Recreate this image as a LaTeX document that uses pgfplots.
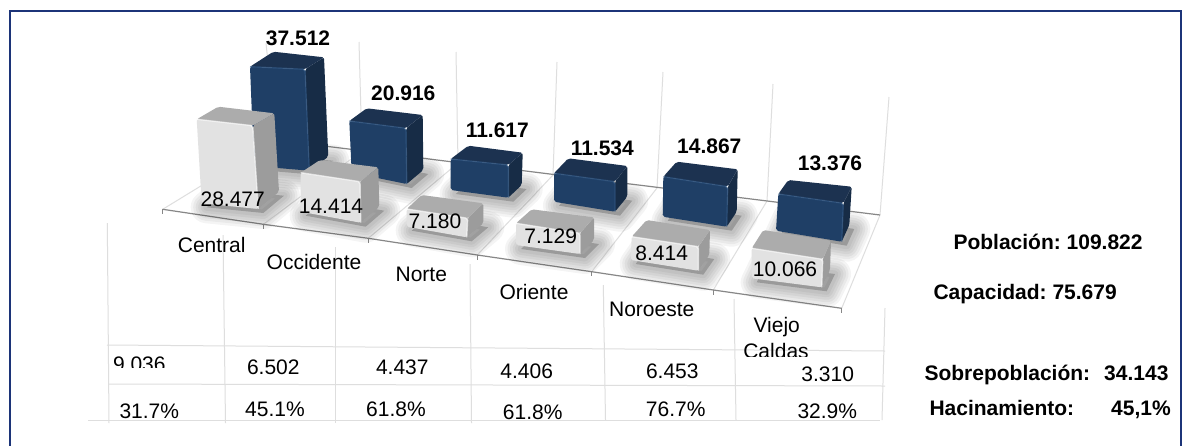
\documentclass[border=0pt]{standalone}
\usepackage{pgfplots}
\pgfplotsset{compat=1.18}
\usepackage{fontspec}
\setmainfont{Liberation Sans}
\frenchspacing
\definecolor{frameb}{RGB}{28,52,120}
\definecolor{gridc}{RGB}{222,222,222}
\definecolor{floorc}{RGB}{135,135,135}
\definecolor{Bfront}{RGB}{31,63,102}
\definecolor{Btop}{RGB}{28,50,80}
\definecolor{Bside}{RGB}{23,44,70}
\definecolor{Bedge}{RGB}{48,86,130}
\definecolor{Gfront}{RGB}{226,226,226}
\definecolor{Gtop}{RGB}{172,172,172}
\definecolor{Gside}{RGB}{156,156,156}
\definecolor{Gedge}{RGB}{250,250,250}
\newcommand\barshadow[5]{%
  \addplot[draw=black,opacity=0.042,line width=#1pt,line join=round,xshift=5pt,yshift=-4pt] coordinates {#2 #3 #4 #5} --cycle;}
\newcommand\bdbar[9]{%
  \addplot[fill=#1side,draw=none,rounded corners=2pt] coordinates {#3 #4 #8 #7} --cycle;
  \addplot[fill=#1top,draw=none,rounded corners=2pt] coordinates {#2 #3 #4 #5} --cycle;
  \addplot[fill=#1front,draw=none,rounded corners=2pt] coordinates {#2 #3 #7 #6} --cycle;
  \addplot[color=#1edge,line width=1.4pt,opacity=0.65,rounded corners=2pt] coordinates {#2 #3 #7};
}
\newcommand\bdshadow[4]{%
  \addplot[fill=black,draw=none,opacity=0.2,xshift=5pt,yshift=-4pt] coordinates {#1 #2 #3 #4} --cycle;
  \barshadow{32}{#1}{#2}{#3}{#4}\barshadow{27}{#1}{#2}{#3}{#4}\barshadow{22}{#1}{#2}{#3}{#4}\barshadow{17}{#1}{#2}{#3}{#4}\barshadow{12}{#1}{#2}{#3}{#4}\barshadow{7}{#1}{#2}{#3}{#4}%
}
\newcommand\wall[2]{\addplot[color=gridc,line width=1pt] coordinates {#1 #2};}
\newcommand\T[3]{\node[anchor=base,inner sep=0pt] at (axis cs:#1,#2) {\fontsize{21}{21}\selectfont #3};}
\newcommand\TB[3]{\node[anchor=base,inner sep=0pt] at (axis cs:#1,#2) {\fontsize{21}{21}\selectfont\bfseries #3};}
\newcommand\TL[3]{\node[anchor=base west,inner sep=0pt] at (axis cs:#1,#2) {\fontsize{21}{21}\selectfont\bfseries #3};}
\begin{document}
\begin{tikzpicture}
\begin{axis}[
  width=1182pt,height=445pt,scale only axis,
  xmin=0,xmax=1182,ymin=0,ymax=445,y dir=reverse,
  axis lines=none,clip=true,
]
% page
\addplot[fill=white,draw=none] coordinates {(0,0) (1182,0) (1182,445) (0,445)} --cycle;
\addplot[color=frameb,line width=2pt] coordinates {(9.7,446) (9.7,10.7) (1180.7,10.7) (1180.7,446)};
% back wall
\wall{(266,43)}{(276,140)}
\wall{(359,42)}{(362,151)}
\wall{(456,52)}{(458,163)}
\wall{(557,62)}{(553,175)}
\wall{(663,72)}{(657,188)}
\wall{(773,84)}{(767,201)}
\wall{(889,97)}{(880,215)}
% floor dividers
\wall{(162.7,209.3)}{(276,140)}
\wall{(263.3,224.3)}{(362,151)}
\wall{(368.3,238.3)}{(458,163)}
\wall{(477.3,255)}{(553,175)}
\wall{(591.7,271.7)}{(657,188)}
\wall{(713.3,290)}{(767,201)}
\wall{(841.7,308.3)}{(880,215)}
% floor edges and ticks
\addplot[color=floorc,line width=1.2pt] coordinates {(276,140) (880,215)};
\addplot[color=floorc,line width=1.2pt] coordinates {(162.7,209.3) (263.3,224.3) (368.3,238.3) (477.3,255) (591.7,271.7) (713.3,290) (841.7,308.3)};
\addplot[color=floorc,line width=1pt] coordinates {(162.7,209.3) (162.7,214)};
\addplot[color=floorc,line width=1pt] coordinates {(263.3,224.3) (263.3,229)};
\addplot[color=floorc,line width=1pt] coordinates {(368.3,238.3) (368.3,243)};
\addplot[color=floorc,line width=1pt] coordinates {(477.3,255) (477.3,260)};
\addplot[color=floorc,line width=1pt] coordinates {(591.7,271.7) (591.7,276)};
\addplot[color=floorc,line width=1pt] coordinates {(713.3,290) (713.3,295)};
\addplot[color=floorc,line width=1pt] coordinates {(841.7,308.3) (841.7,313)};
% table lines
\wall{(107.3,223)}{(109,423)}
\wall{(223,235)}{(225.5,423)}
\wall{(335.7,247)}{(335.7,423)}
\wall{(470,264)}{(471.5,423)}
\wall{(603.3,285)}{(605.5,420)}
\wall{(734,299)}{(736,420)}
\wall{(885,308)}{(882,420)}
\wall{(107,345)}{(885,351)}
\wall{(108,384)}{(885,386)}
\wall{(88,420)}{(880,420)}
% shadows
\bdshadow{(254,166)}{(309.3,170.7)}{(328.3,156.7)}{(273,152)}
\bdshadow{(351.7,172.7)}{(406.7,184)}{(423.3,170)}{(368.3,158.7)}
\bdshadow{(450.7,190)}{(508.3,197.7)}{(521.7,185)}{(464.1,177.3)}
\bdshadow{(554,201.7)}{(615,211.7)}{(627.3,196.7)}{(566.3,186.7)}
\bdshadow{(662.7,216.7)}{(726.7,226.7)}{(736.7,211.7)}{(672.7,201.7)}
\bdshadow{(776,230.7)}{(841.7,241.7)}{(849.3,225)}{(783.6,214)}
\bdshadow{(201.7,203.3)}{(258.3,209)}{(279,191.7)}{(222.4,186)}
\bdshadow{(300.7,211.7)}{(360.7,222.7)}{(379.3,206.7)}{(319.3,195.7)}
\bdshadow{(406.7,226.7)}{(466.7,237.3)}{(483.3,223.3)}{(423.3,212.7)}
\bdshadow{(516,245)}{(580,254)}{(594,240)}{(530,231)}
\bdshadow{(630.7,260)}{(698.3,270.7)}{(709.3,255)}{(641.7,244.3)}
\bdshadow{(751.7,278.3)}{(821.7,287.3)}{(830,270)}{(760,261)}
% blue bars (population)
\bdbar{B}{(250,66.7)}{(305,69.3)}{(324,57.3)}{(273.3,51.7)}{(254,166)}{(309.3,170.7)}{(328.3,156.7)}{(273,152)}
\bdbar{B}{(349.3,121)}{(406,128.3)}{(422.7,115)}{(366.7,108.3)}{(351.7,172.7)}{(406.7,184)}{(423.3,170)}{(368.3,158.7)}
\bdbar{B}{(450.7,159)}{(508.3,165)}{(522.7,152.7)}{(468.3,145.7)}{(450.7,190)}{(508.3,197.7)}{(521.7,185)}{(464.1,177.3)}
\bdbar{B}{(554,173.3)}{(615,181.7)}{(627.3,166)}{(568.3,158.3)}{(554,201.7)}{(615,211.7)}{(627.3,196.7)}{(566.3,186.7)}
\bdbar{B}{(663.3,176.7)}{(727.7,186.7)}{(737.7,169.3)}{(676.7,161.7)}{(662.7,216.7)}{(726.7,226.7)}{(736.7,211.7)}{(672.7,201.7)}
\bdbar{B}{(778.3,194)}{(843.3,203.3)}{(851.7,186.7)}{(788.3,180)}{(776,230.7)}{(841.7,241.7)}{(849.3,225)}{(783.6,214)}
% grey bars (capacity)
\bdbar{G}{(196.7,119.3)}{(252.7,125.7)}{(274.3,113.3)}{(218.3,106.7)}{(201.7,203.3)}{(258.3,209)}{(279,191.7)}{(222.4,186)}
\bdbar{G}{(300.7,172.7)}{(360,181.7)}{(378.3,167.3)}{(320,160)}{(300.7,211.7)}{(360.7,222.7)}{(379.3,206.7)}{(319.3,195.7)}
\bdbar{G}{(406.7,209)}{(467.7,218.3)}{(483.3,203.3)}{(421.7,195)}{(406.7,226.7)}{(466.7,237.3)}{(483.3,223.3)}{(423.3,212.7)}
\bdbar{G}{(516,223.3)}{(580,233.3)}{(594,217.3)}{(531.7,209.3)}{(516,245)}{(580,254)}{(594,240)}{(530,231)}
\bdbar{G}{(631.7,236.7)}{(698.3,246.7)}{(710,230)}{(646.7,220)}{(630.7,260)}{(698.3,270.7)}{(709.3,255)}{(641.7,244.3)}
\bdbar{G}{(751.7,248.3)}{(822.7,259.3)}{(831,240.7)}{(763.3,230)}{(751.7,278.3)}{(821.7,287.3)}{(830,270)}{(760,261)}
% value labels
\TB{298}{45.2}{37.512}
\TB{403.3}{100.8}{20.916}
\TB{497.3}{137.5}{11.617}
\TB{602.3}{155.8}{11.534}
\TB{709.3}{153.2}{14.867}
\TB{830}{170.8}{13.376}
\T{232.7}{206.5}{28.477}
\T{331}{213.2}{14.414}
\T{435}{228.2}{7.180}
\T{550.7}{243.5}{7.129}
\T{661.7}{260.8}{8.414}
\T{785}{276.5}{10.066}
% categories
\T{211.7}{252.5}{Central}
\T{314}{269.2}{Occidente}
\T{421.3}{281.8}{Norte}
\T{534}{299.2}{Oriente}
\T{651.7}{316.8}{Noroeste}
\T{776.7}{332}{Viejo}
\T{776}{358}{Caldas}
% sobrepoblacion row
\T{139.3}{371.5}{9.036}
\T{273.3}{374.2}{6.502}
\T{402.3}{374.2}{4.437}
\T{526.7}{378.2}{4.406}
\T{672.3}{378.2}{6.453}
\T{827.7}{381.5}{3.310}
% hacinamiento row
\T{149.3}{418.5}{31.7\%}
\T{275}{416.5}{45.1\%}
\T{396}{416.5}{61.8\%}
\T{532.7}{419.2}{61.8\%}
\T{675.7}{416.5}{76.7\%}
\T{827.3}{418.5}{32.9\%}
% totals
\TL{953.3}{249.8}{Población: 109.822}
\TL{933.3}{299.2}{Capacidad: 75.679}
\TL{924.3}{380.8}{Sobrepoblación:}
\TL{1104}{380.8}{34.143}
\TL{929.3}{415.8}{Hacinamiento:}
\TL{1111}{415.8}{45,1\%}
% masks that cut the clipped labels
\addplot[fill=white,draw=none] coordinates {(110,368) (175,368) (175,372.5) (110,372.5)} --cycle;
\addplot[fill=white,draw=none] coordinates {(740,356.5) (820,356.5) (820,360) (740,360)} --cycle;
\end{axis}
\end{tikzpicture}
\end{document}
